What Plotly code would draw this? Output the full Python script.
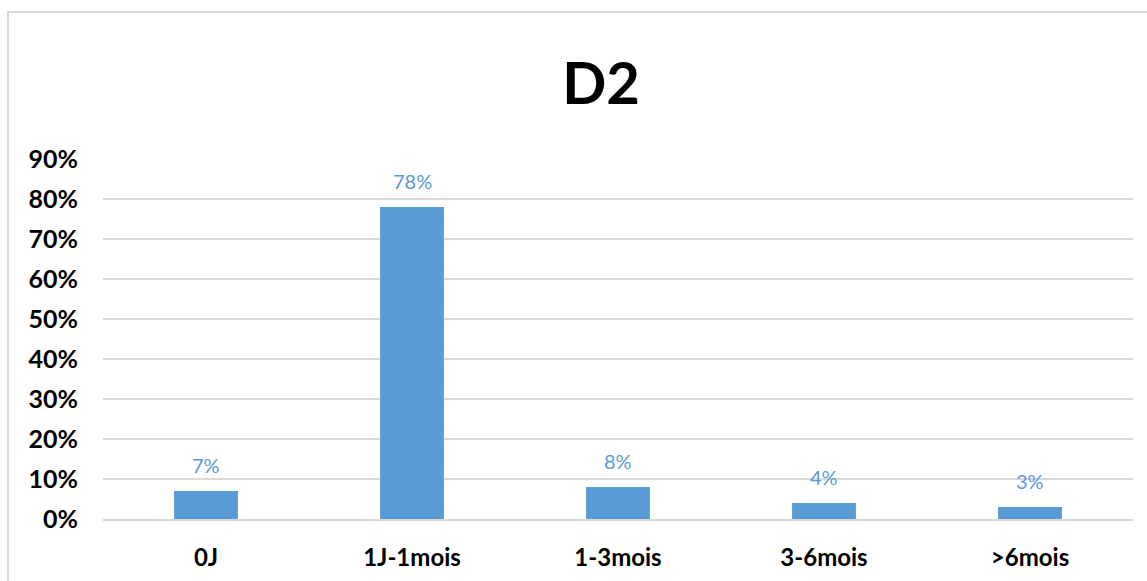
import plotly.graph_objects as go

categories = ["0J", "1J-1mois", "1-3mois", "3-6mois", ">6mois"]
values = [7, 78, 8, 4, 3]
y_ticks = [0, 10, 20, 30, 40, 50, 60, 70, 80, 90]

BLUE = "#5B9BD5"
GRID = "#D9D9D9"
FONT = "Lato, 'Open Sans', Arial, sans-serif"

fig = go.Figure(
    go.Bar(
        x=categories,
        y=values,
        marker=dict(color=BLUE, line=dict(width=0)),
        cliponaxis=False,
    )
)

# value labels sitting a little above each bar
for cat, v in zip(categories, values):
    fig.add_annotation(
        x=cat,
        y=v,
        text=f"{v}%",
        showarrow=False,
        yanchor="bottom",
        yshift=12,
        font=dict(color=BLUE, size=20, family=FONT),
    )

fig.update_layout(
    width=1147,
    height=581,
    paper_bgcolor="white",
    plot_bgcolor="white",
    margin=dict(l=103, r=14, t=159, b=62),
    bargap=0.69,
    showlegend=False,
    title=dict(
        text="<b>D2</b>",
        x=601 / 1147,
        xref="container",
        xanchor="center",
        y=1 - 84 / 581,
        yref="container",
        yanchor="middle",
        font=dict(size=58, color="black", family=FONT),
    ),
    xaxis=dict(
        automargin=False,
        showline=True,
        linecolor=GRID,
        linewidth=1.5,
        showgrid=False,
        ticks="",
        tickfont=dict(size=24, color="black", family=FONT, weight="bold"),
        ticklabelstandoff=16,
    ),
    yaxis=dict(
        automargin=False,
        range=[0, 90],
        tickvals=y_ticks,
        ticktext=[f"{t}%" for t in y_ticks],
        showgrid=True,
        gridcolor=GRID,
        gridwidth=1.5,
        zeroline=False,
        showline=False,
        ticks="",
        tickfont=dict(size=25, color="black", family=FONT, weight="bold"),
        ticklabelstandoff=24,
    ),
    shapes=[
        dict(
            type="rect",
            xref="paper",
            yref="paper",
            x0=(8 - 103) / 1030,
            x1=1.2,
            y0=-0.5,
            y1=(519 - 12) / 360,
            line=dict(color=GRID, width=2),
            fillcolor="rgba(0,0,0,0)",
            layer="below",
        )
    ],
)

fig.write_html("out.html")
